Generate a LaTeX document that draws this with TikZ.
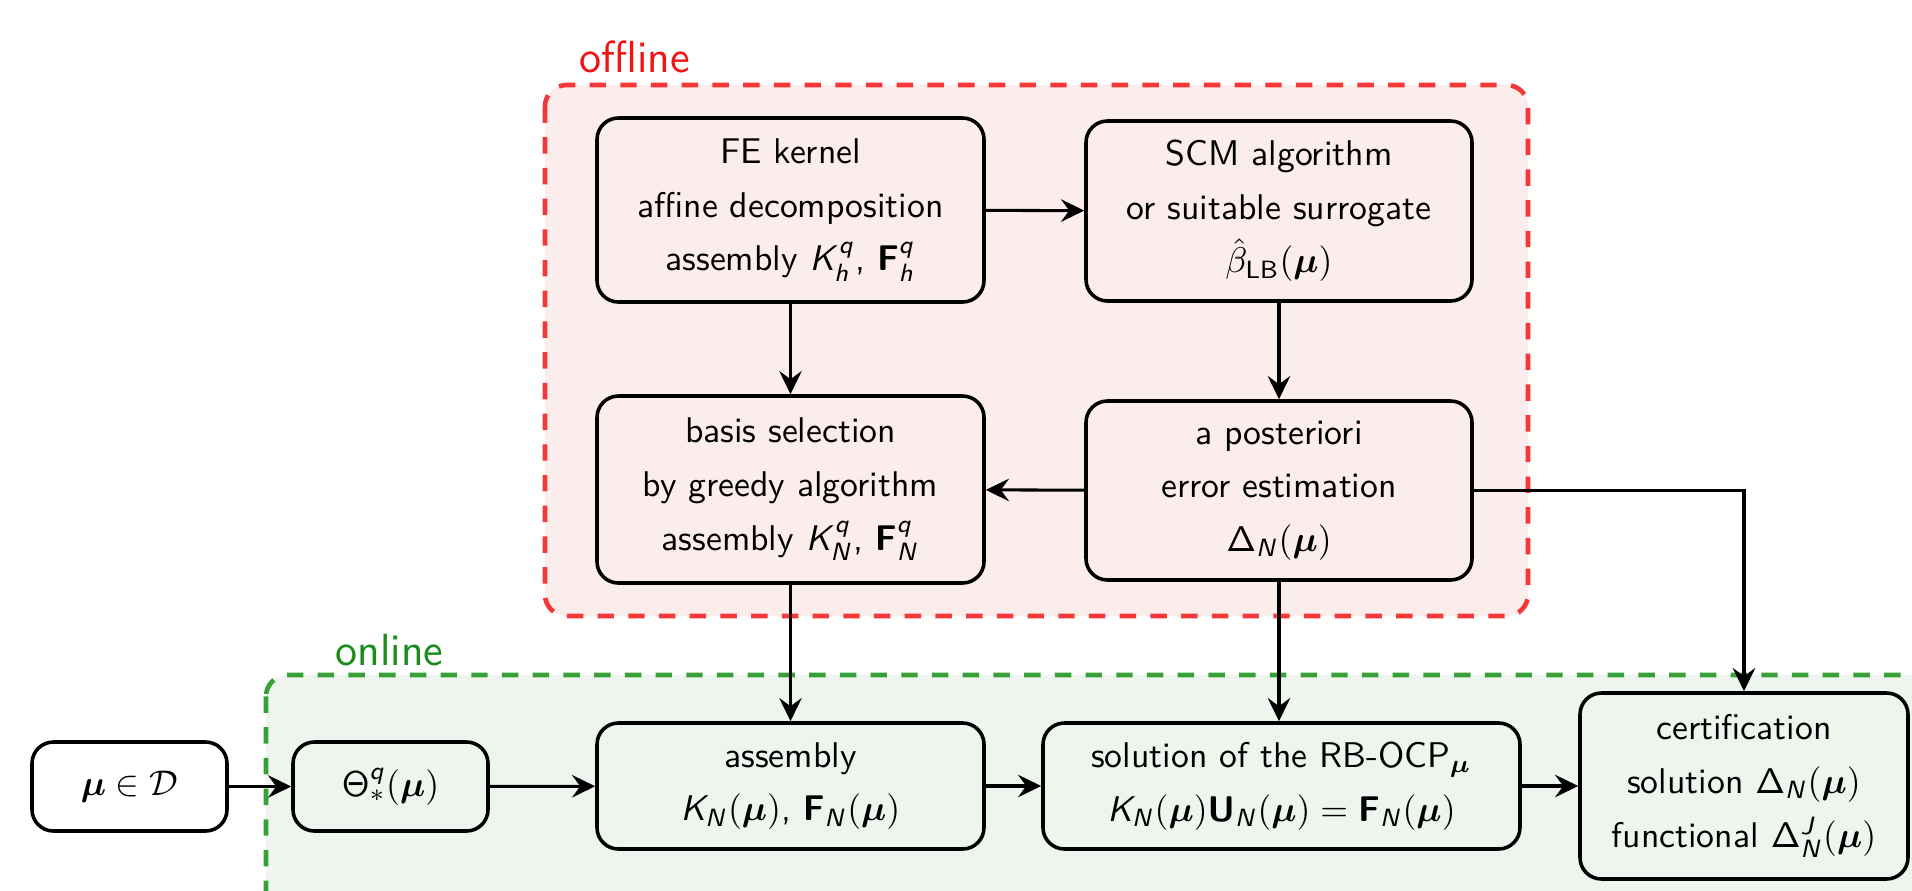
\documentclass[tikz,border=0pt]{standalone}
\usepackage{amsmath,amssymb}
\usetikzlibrary{arrows.meta}
\DeclareMathAlphabet{\mathsfit}{OT1}{cmss}{m}{sl}
\DeclareMathAlphabet{\mathsfbf}{OT1}{cmss}{bx}{n}
\DeclareMathAlphabet{\mathsfup}{OT1}{cmss}{m}{n}
\newcommand\mK{\mathsfit{K}}
\newcommand\mN{\mathsfit{N}}
\newcommand\mh{\mathsfit{h}}
\newcommand\mq{\mathsfit{q}}
\newcommand\mJ{\mathsfit{J}}
\newcommand\mF{\mathsfbf{F}}
\newcommand\mU{\mathsfbf{U}}
\newcommand\mDelta{\mathsfup{\Delta}}
\newcommand\mTheta{\mathsfup{\Theta}}
\newcommand\mmu{\boldsymbol{\mu}}
\newcommand\mpar{\mathsfup{(}\mmu\mathsfup{)}}
\definecolor{offfill}{RGB}{252,237,237}
\definecolor{offdraw}{RGB}{245,55,55}
\definecolor{offtext}{RGB}{240,20,20}
\definecolor{onfill}{RGB}{238,245,238}
\definecolor{ondraw}{RGB}{55,160,55}
\definecolor{ontext}{RGB}{25,140,25}
\newcommand\upx{0.28pt}
\begin{document}
\begin{tikzpicture}[x=0.28pt,y=-0.28pt,
  every node/.style={font=\sffamily\fontsize{10}{15}\selectfont, align=center},
  box/.style={draw=black, line width=1pt, rounded corners=6pt, inner sep=0pt},
  conn/.style={line width=0.85pt, -{Stealth[length=6.5pt,width=6.3pt,inset=2.3pt]}},
  region/.style={line width=1.3pt, dash pattern=on 4.6pt off 4pt, rounded corners=6pt},
  lab/.style={font=\sffamily\fontsize{12.6}{15}\selectfont, anchor=west, inner sep=0pt}
]
\useasboundingbox (0,0) rectangle (1912,890);
\clip (0,0) rectangle (1912,890);
% regions
\draw[region, draw=offdraw, fill=offfill] (545,85) rectangle (1528,616);
\draw[region, draw=ondraw, fill=onfill] (266,675) rectangle (1990,960);
\node[lab, text=offtext] (offlab) at (579,57) {offline};
\node[lab, text=ontext] (onlab) at (335,650) {online};
% offline nodes
\node[box, minimum width=387*\upx, minimum height=184*\upx] (fe) at (790.5,210)
  {FE kernel\\affine decomposition\\assembly $\mK_{\mh}^{\mq}$, $\mF_{\mh}^{\mq}$};
\node[box, minimum width=386*\upx, minimum height=180*\upx] (scm) at (1279,211)
  {SCM algorithm\\or suitable surrogate\\$\hat{\beta}_{\mathsfup{LB}}\mpar$};
\node[box, minimum width=387*\upx, minimum height=187*\upx] (basis) at (790.5,489.5)
  {basis selection\\by greedy algorithm\\assembly $\mK_{\mN}^{\mq}$, $\mF_{\mN}^{\mq}$};
\node[box, minimum width=386*\upx, minimum height=179*\upx] (apost) at (1279,490.5)
  {a posteriori\\error estimation\\$\mDelta_{\mN}\mpar$};
% online nodes
\node[box, fill=white, minimum width=195*\upx, minimum height=89*\upx] (mu) at (129.5,786.5)
  {$\mmu \in \mathcal{D}$};
\node[box, minimum width=195*\upx, minimum height=89*\upx] (theta) at (390.5,786.5)
  {$\mTheta_*^{\mq}\mpar$};
\node[box, minimum width=387*\upx, minimum height=126*\upx] (asm) at (790.5,786)
  {assembly\\$\mK_{\mN}\mpar$, $\mF_{\mN}\mpar$};
\node[box, minimum width=477*\upx, minimum height=126*\upx] (sol) at (1281.5,786)
  {solution of the RB-OCP$_{\mmu}$\\$\mK_{\mN}\mpar\mU_{\mN}\mpar = \mF_{\mN}\mpar$};
\node[box, minimum width=328*\upx, minimum height=186*\upx] (cert) at (1744,786)
  {certification\\solution $\mDelta_{\mN}\mpar$\\functional $\mDelta_{\mN}^{\mJ}\mpar$};
% connectors
\draw[conn] (fe) -- (scm);
\draw[conn] (fe) -- (basis);
\draw[conn] (scm) -- (apost);
\draw[conn] (apost) -- (basis);
\draw[conn] (basis) -- (asm);
\draw[conn] (apost.south) -- (apost.south |- sol.north);
\draw[conn] (apost.east) -| (cert.north);
\draw[conn] (mu) -- (theta);
\draw[conn] (theta) -- (asm);
\draw[conn] (asm) -- (sol);
\draw[conn] (sol) -- (cert);
\end{tikzpicture}
\end{document}
